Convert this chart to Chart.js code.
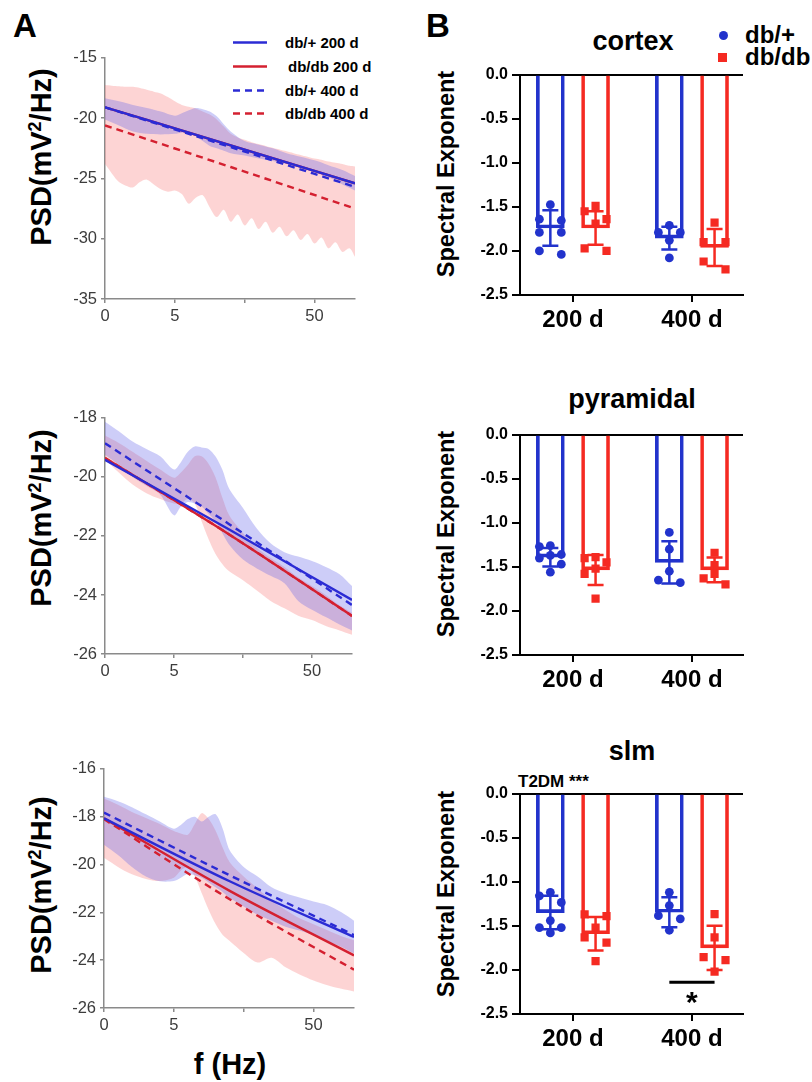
<!DOCTYPE html>
<html>
<head>
<meta charset="utf-8">
<script src="https://cdn.jsdelivr.net/npm/chart.js@4.4.1/dist/chart.umd.min.js"></script>
<style>
  html, body { margin: 0; padding: 0; background: #fff; }
  #fig { position: relative; width: 812px; height: 1082px; overflow: hidden;
         font-family: "Liberation Sans", Arial, sans-serif; color: #000; }
  #fig canvas { position: absolute; }
  .t { position: absolute; line-height: 1; white-space: nowrap; font-weight: bold;
       transform: translate(-50%, -50%); }
  .rot { transform: translate(-50%, -50%) rotate(-90deg); }
  .lg { position: absolute; line-height: 1; white-space: nowrap; font-weight: bold;
        transform: translateY(-50%); }
  .sup { font-size: 0.62em; position: relative; top: -0.55em; }
  .swatch { position: absolute; }
</style>
</head>
<body>
<div id="fig">
  <!-- panel letters -->
  <div class="t" style="left:25px;top:25px;font-size:33px">A</div>
  <div class="t" style="left:438px;top:25px;font-size:33px">B</div>

  <!-- PSD legend -->
  <svg class="swatch" style="left:233px;top:41px" width="34" height="3"><line x1="0" y1="1.5" x2="34" y2="1.5" stroke="#2b2bd4" stroke-width="2.4"/></svg>
  <svg class="swatch" style="left:233px;top:65px" width="34" height="3"><line x1="0" y1="1.5" x2="34" y2="1.5" stroke="#d42030" stroke-width="2.4"/></svg>
  <svg class="swatch" style="left:233px;top:89px" width="34" height="3"><line x1="0" y1="1.5" x2="34" y2="1.5" stroke="#2b2bd4" stroke-width="2.4" stroke-dasharray="7 5"/></svg>
  <svg class="swatch" style="left:233px;top:112px" width="34" height="3"><line x1="0" y1="1.5" x2="34" y2="1.5" stroke="#d42030" stroke-width="2.4" stroke-dasharray="7 5"/></svg>
  <div class="lg" style="left:285px;top:42px;font-size:15px">db/+ 200 d</div>
  <div class="lg" style="left:288px;top:66px;font-size:15px">db/db 200 d</div>
  <div class="lg" style="left:285px;top:90px;font-size:15px">db/+ 400 d</div>
  <div class="lg" style="left:285px;top:113px;font-size:15px">db/db 400 d</div>

  <!-- PSD axis titles -->
  <div class="t rot" style="left:41px;top:157px;font-size:29px">PSD(mV<span class="sup">2</span>/Hz)</div>
  <div class="t rot" style="left:41px;top:518px;font-size:29px">PSD(mV<span class="sup">2</span>/Hz)</div>
  <div class="t rot" style="left:41px;top:885px;font-size:29px">PSD(mV<span class="sup">2</span>/Hz)</div>
  <div class="t" style="left:230px;top:1064px;font-size:29px">f (Hz)</div>

  <!-- exponent panel legend -->
  <div class="swatch" style="left:719px;top:31px;width:9px;height:9px;border-radius:50%;background:#2233cc"></div>
  <div class="swatch" style="left:718px;top:53px;width:9px;height:9px;background:#f52a22"></div>
  <div class="lg" style="left:745px;top:35px;font-size:24px">db/+</div>
  <div class="lg" style="left:745px;top:57px;font-size:24px">db/db</div>

  <!-- exponent panel titles -->
  <div class="t" style="left:633px;top:41px;font-size:27px">cortex</div>
  <div class="t" style="left:632px;top:399px;font-size:27px">pyramidal</div>
  <div class="t" style="left:632px;top:751px;font-size:27px">slm</div>
  <div class="t rot" style="left:447px;top:174px;font-size:23.5px">Spectral Exponent</div>
  <div class="t rot" style="left:447px;top:534px;font-size:23.5px">Spectral Exponent</div>
  <div class="t rot" style="left:447px;top:894px;font-size:23.5px">Spectral Exponent</div>
  <div style="position:absolute;left:518px;top:773px;font-size:17px;font-weight:bold;line-height:1;white-space:nowrap">T2DM ***</div>
</div>

<script>
// ---------- frequency axis ----------
const FREQ_TICKS = ['0', '5', '', '50'];
const PSD_X = [0, 0.2, 0.4, 0.6, 0.8, 1.0, 1.1, 1.2, 1.3, 1.4, 1.5, 1.6, 1.7, 1.8, 2.0, 2.2, 2.4, 2.6, 2.8, 3.0, 3.2, 3.4, 3.58];
const FINE_X = [0, 0.1, 0.2, 0.3, 0.4, 0.5, 0.6, 0.7, 0.8, 0.9, 1.0, 1.1, 1.2, 1.3, 1.4, 1.5, 1.6, 1.7, 1.8, 1.9,
                2.0, 2.1, 2.2, 2.3, 2.4, 2.5, 2.6, 2.7, 2.8, 2.9, 3.0, 3.1, 3.2, 3.3, 3.4, 3.5, 3.58];
const FIT_X = [0, 1.8, 3.58];

// ---------- cortex PSD ----------
const cortexFitCtl200 = [-19.1, -22.25, -25.4];
const cortexFitDb200  = [-19.1, -22.25, -25.4];
const cortexFitCtl400 = [-19.1, -22.4, -25.7];
const cortexFitDb400  = [-20.6, -24.05, -27.5];
const cortexCtlHi = [-18.35, -18.6, -18.9, -19.15, -19.45, -19.8, -19.6, -19.35, -19.15, -19.25, -19.45, -19.85, -20.5, -21.1, -21.9, -22.2, -22.5, -22.9, -23.2, -23.5, -23.9, -24.3, -24.8];
const cortexCtlLo = [-20.1, -20.6, -21.1, -21.3, -21.35, -21.3, -21.2, -21.25, -21.5, -21.9, -22.3, -22.5, -22.7, -22.9, -23.1, -23.35, -23.55, -23.8, -24.1, -24.5, -24.9, -25.5, -26.0];
const cortexDbHi = [-17.25, -17.3, -17.35, -17.4, -17.4, -17.5, -17.65, -17.8, -17.95, -18.25, -18.6, -18.9, -19.05, -19.2, -19.45, -19.7, -20.1, -20.7, -21.3, -21.6,
                    -21.8, -22.0, -22.15, -22.3, -22.45, -22.6, -22.75, -22.9, -23.05, -23.2, -23.35, -23.45, -23.6, -23.7, -23.8, -23.95, -24.0];
const cortexDbLo = [-23.8, -24.6, -25.3, -25.6, -25.75, -25.3, -25.1, -25.5, -25.9, -26.1, -26.0, -26.3, -27.1, -26.6, -26.4, -27.4, -28.2, -27.6, -28.6, -28.0,
                    -28.9, -28.3, -29.2, -28.6, -29.5, -29.0, -29.8, -29.3, -30.1, -29.6, -30.4, -29.9, -30.8, -30.3, -31.1, -30.8, -31.5];

// ---------- pyramidal PSD ----------
const pyrFitCtl200 = [-19.42, -21.78, -24.17];
const pyrFitDb200  = [-19.36, -21.95, -24.71];
const pyrFitCtl400 = [-18.86, -21.6, -24.34];
const pyrFitDb400  = [-19.36, -21.95, -24.71];
const pyrCtlHi = [-18.13, -18.45, -18.8, -19.05, -19.3, -19.75, -19.5, -19.15, -18.97, -19.0, -19.05, -19.3, -19.75, -20.4, -21.05, -21.75, -22.25, -22.55, -22.7, -22.85, -23.05, -23.3, -23.7];
const pyrCtlLo = [-19.25, -19.6, -20.0, -20.3, -20.6, -21.3, -21.0, -20.85, -20.9, -21.0, -21.25, -21.5, -21.9, -22.3, -22.8, -23.1, -23.35, -23.6, -24.2, -24.5, -24.75, -25.0, -25.2];
const pyrDbHi = [-18.6, -18.85, -19.15, -19.45, -19.75, -20.03, -19.85, -19.6, -19.3, -19.3, -19.55, -20.0, -20.7, -21.3, -21.9, -22.4, -22.75, -23.05, -23.4, -23.7, -24.0, -24.35, -24.6];
const pyrDbLo = [-19.4, -19.85, -20.26, -20.55, -20.75, -20.9, -20.9, -20.75, -20.9, -21.5, -22.1, -22.6, -22.95, -23.2, -23.5, -23.85, -24.2, -24.45, -24.7, -24.85, -25.05, -25.2, -25.35];

// ---------- slm PSD ----------
const slmFitCtl200 = [-18.07, -20.7, -23.03];
const slmFitDb200  = [-18.07, -21.1, -23.8];
const slmFitCtl400 = [-17.83, -20.45, -22.95];
const slmFitDb400  = [-18.1, -21.45, -24.4];
const slmCtlHi = [-17.17, -17.35, -17.6, -17.9, -18.2, -18.5, -18.35, -18.1, -18.0, -18.2, -18.0, -17.9, -18.5, -19.4, -20.1, -20.5, -20.95, -21.2, -21.38, -21.55, -21.7, -22.0, -22.35];
const slmCtlLo = [-19.17, -19.6, -20.1, -20.5, -20.7, -20.69, -20.55, -20.4, -20.45, -20.55, -20.75, -20.95, -21.15, -21.4, -21.75, -22.1, -22.35, -22.6, -22.76, -22.95, -23.2, -23.45, -23.72];
const slmDbHi = [-17.24, -17.5, -17.8, -18.05, -18.3, -18.6, -18.7, -18.75, -18.3, -17.85, -18.1, -18.6, -19.3, -19.9, -20.5, -21.0, -21.5, -21.9, -22.25, -22.5, -22.75, -23.0, -23.17];
const slmDbLo = [-19.72, -20.1, -20.41, -20.6, -20.69, -20.55, -20.25, -20.1, -20.5, -21.2, -21.9, -22.5, -22.95, -23.2, -23.7, -24.1, -23.9, -24.3, -24.6, -24.85, -25.05, -25.2, -25.31];

// ---------- spectral exponents (per animal) ----------
const AGES = ['200 d', '400 d'];
const cortexCtl = [[-1.475, -1.64, -1.655, -1.79, -1.79, -2.04, -2.0], [-1.71, -1.79, -1.79, -1.88, -2.08]];
const cortexDb  = [[-1.49, -1.55, -1.64, -1.69, -1.97, -2.0], [-1.68, -1.9, -1.9, -2.12, -2.21]];
const cortexCtlMean = [-1.74, -1.855], cortexCtlSD = [0.20, 0.13];
const cortexDbMean  = [-1.74, -1.96],  cortexDbSD  = [0.19, 0.21];

const pyrCtl = [[-1.27, -1.26, -1.40, -1.36, -1.37, -1.47, -1.56], [-1.11, -1.30, -1.55, -1.68, -1.65]];
const pyrDb  = [[-1.39, -1.40, -1.45, -1.52, -1.58, -1.86], [-1.34, -1.48, -1.58, -1.63, -1.70]];
const pyrCtlMean = [-1.39, -1.45],  pyrCtlSD = [0.105, 0.24];
const pyrDbMean  = [-1.535, -1.535], pyrDbSD = [0.17, 0.14];

const slmCtl = [[-1.12, -1.16, -1.235, -1.44, -1.52, -1.52, -1.58], [-1.12, -1.27, -1.385, -1.42, -1.55]];
const slmDb  = [[-1.37, -1.39, -1.52, -1.63, -1.69, -1.90], [-1.366, -1.63, -1.855, -1.89, -2.02]];
const slmCtlMean = [-1.35, -1.346], slmCtlSD = [0.19, 0.17];
const slmDbMean  = [-1.59, -1.75],  slmDbSD  = [0.19, 0.25];
const slmSigY = -2.14;   // db/+ vs db/db at 400 d
const slmSigText = '*';

// ---------- styling ----------
const BLUE_LINE = '#2b2bd4', RED_LINE = '#d42030';
const BLUE_BAND = 'rgba(100,100,232,0.32)', RED_BAND = 'rgba(248,112,112,0.30)';
const BLUE = '#2233cc', RED = '#f52a22';
const FONT = '"Liberation Sans", Arial, sans-serif';
Chart.defaults.font.family = FONT;
Chart.defaults.animation = false;

const fig = document.getElementById('fig');
const xy = (xs, ys) => ys.map((y, i) => ({ x: xs[i], y }));

function mount(area, m) {
  const c = document.createElement('canvas');
  const w = area.r - area.l + m.l + m.r, h = area.b - area.t + m.t + m.b;
  c.width = w; c.height = h;
  c.style.left = (area.l - m.l) + 'px';
  c.style.top = (area.t - m.t) + 'px';
  c.style.width = w + 'px';
  c.style.height = h + 'px';
  fig.appendChild(c);
  return c;
}

// ---------- PSD panels ----------
function psdChart(area, yMin, yMax, step, fits, ctlBand, dbBand) {
  const m = { l: 70, r: 8, t: 12, b: 30 };
  const c = mount(area, m);
  const fitLine = (ys, color, dashed) => ({
    data: xy(FIT_X, ys), borderColor: color, borderWidth: 2.4, borderDash: dashed ? [7, 5] : [],
    pointRadius: 0, fill: false, cubicInterpolationMode: 'monotone'
  });
  const edge = (xs, ys, fill, color) => ({
    data: xy(xs, ys), borderColor: 'rgba(0,0,0,0)', borderWidth: 1, pointRadius: 0,
    fill: fill, backgroundColor: color, tension: 0.3
  });
  const axisGrey = '#8a8a8a';
  new Chart(c, {
    type: 'line',
    data: {
      datasets: [
        fitLine(fits[0], BLUE_LINE, false),
        fitLine(fits[2], BLUE_LINE, true),
        fitLine(fits[1], RED_LINE, false),
        fitLine(fits[3], RED_LINE, true),
        edge(ctlBand[0], ctlBand[1], '+1', BLUE_BAND),
        edge(ctlBand[0], ctlBand[2], false, BLUE_BAND),
        edge(dbBand[0], dbBand[1], '+1', RED_BAND),
        edge(dbBand[0], dbBand[2], false, RED_BAND)
      ]
    },
    options: {
      responsive: false, events: [],
      layout: { padding: { top: m.t, right: m.r, left: 0, bottom: 0 } },
      plugins: { legend: { display: false }, tooltip: { enabled: false } },
      scales: {
        x: {
          type: 'linear', min: 0, max: 3.58,
          afterBuildTicks: s => { s.ticks = FREQ_TICKS.map((_, i) => ({ value: i })); },
          ticks: { callback: (v, i) => FREQ_TICKS[i], color: '#3c3c3c', font: { size: 16.5 }, padding: 4, maxRotation: 0, autoSkip: false },
          grid: { drawOnChartArea: false, tickLength: 4, color: axisGrey, lineWidth: 1.5 },
          border: { color: axisGrey, width: 1.5 },
          afterFit: s => { s.height = m.b; }
        },
        y: {
          min: yMin, max: yMax,
          ticks: { stepSize: step, color: '#3c3c3c', font: { size: 16.5 }, padding: 4 },
          grid: { drawOnChartArea: false, tickLength: 4, color: axisGrey, lineWidth: 1.5 },
          border: { color: axisGrey, width: 1.5 },
          afterFit: s => { s.width = m.l; }
        }
      }
    }
  });
}

psdChart({ l: 105, r: 355, t: 56, b: 299 }, -35, -15, 5,
  [cortexFitCtl200, cortexFitDb200, cortexFitCtl400, cortexFitDb400],
  [PSD_X, cortexCtlHi, cortexCtlLo], [FINE_X, cortexDbHi, cortexDbLo]);
psdChart({ l: 105, r: 352, t: 416, b: 654 }, -26, -18, 2,
  [pyrFitCtl200, pyrFitDb200, pyrFitCtl400, pyrFitDb400],
  [PSD_X, pyrCtlHi, pyrCtlLo], [PSD_X, pyrDbHi, pyrDbLo]);
psdChart({ l: 104, r: 354, t: 767, b: 1008 }, -26, -16, 2,
  [slmFitCtl200, slmFitDb200, slmFitCtl400, slmFitDb400],
  [PSD_X, slmCtlHi, slmCtlLo], [PSD_X, slmDbHi, slmDbLo]);

// ---------- exponent panels ----------
const GROUP_OFFSET = 0.19;   // half distance between paired bars (x units)
const SPREAD = 0.092;        // horizontal step between overlapping points

// places near-equal values side by side, like a column scatter
function swarm(values) {
  const idx = values.map((_, i) => i).sort((a, b) => values[b] - values[a]);
  const off = new Array(values.length).fill(0);
  let cluster = [idx[0]];
  const flush = () => {
    const n = cluster.length;
    cluster.forEach((k, j) => { off[k] = n === 2 ? (j === 0 ? -1 : 1) : [0, -1, 1][j % 3]; });
  };
  for (let j = 1; j < idx.length; j++) {
    if (values[idx[j - 1]] - values[idx[j]] < 0.1) cluster.push(idx[j]);
    else { flush(); cluster = [idx[j]]; }
  }
  flush();
  return off;
}

const errorBarPlugin = {
  id: 'errorBars',
  afterDatasetsDraw(chart, args, o) {
    const { ctx } = chart, x = chart.scales.x, y = chart.scales.y;
    ctx.save();
    ctx.lineCap = 'butt';
    (o.groups || []).forEach(g => {
      const px = x.getPixelForValue(g.x);
      const top = y.getPixelForValue(g.mean + g.sd), bot = y.getPixelForValue(g.mean - g.sd);
      ctx.strokeStyle = g.color; ctx.lineWidth = 2.5;
      ctx.beginPath();
      ctx.moveTo(px, top); ctx.lineTo(px, bot);
      ctx.moveTo(px - 8, top); ctx.lineTo(px + 8, top);
      ctx.moveTo(px - 8, bot); ctx.lineTo(px + 8, bot);
      ctx.stroke();
    });
    if (o.sig) {
      const s = o.sig, py = y.getPixelForValue(s.y);
      const x1 = x.getPixelForValue(s.from), x2 = x.getPixelForValue(s.to);
      ctx.strokeStyle = '#000'; ctx.lineWidth = 3;
      ctx.beginPath(); ctx.moveTo(x1, py); ctx.lineTo(x2, py); ctx.stroke();
      ctx.fillStyle = '#000'; ctx.font = 'bold 30px ' + FONT;
      ctx.textAlign = 'center'; ctx.textBaseline = 'alphabetic';
      ctx.fillText(s.text, (x1 + x2) / 2, py + 30);
    }
    ctx.restore();
  }
};

function exponentChart(area, ctl, db, ctlMean, ctlSD, dbMean, dbSD, sig) {
  const m = { l: 80, r: 8, t: 12, b: 50 };
  const c = mount(area, m);
  const pts = (groups, side) => groups.flatMap((vals, a) => {
    const off = swarm(vals);
    return vals.map((v, i) => ({ x: a + 1 + side * GROUP_OFFSET + off[i] * SPREAD, y: v }));
  });
  const bars = (means, side) => means.map((v, a) => ({ x: a + 1 + side * GROUP_OFFSET, y: v }));
  const groups = [];
  AGES.forEach((_, a) => {
    groups.push({ x: a + 1 - GROUP_OFFSET, mean: ctlMean[a], sd: ctlSD[a], color: BLUE });
    groups.push({ x: a + 1 + GROUP_OFFSET, mean: dbMean[a], sd: dbSD[a], color: RED });
  });
  new Chart(c, {
    type: 'bar',
    data: {
      datasets: [
        { type: 'scatter', order: 0, data: pts(ctl, -1), pointStyle: 'circle', pointRadius: 4.4,
          backgroundColor: BLUE, borderWidth: 0 },
        { type: 'scatter', order: 0, data: pts(db, 1), pointStyle: 'rect', pointRadius: 5.8,
          backgroundColor: RED, borderWidth: 0 },
        { type: 'bar', order: 1, data: bars(ctlMean, -1), backgroundColor: 'rgba(255,255,255,0)',
          borderColor: BLUE, borderWidth: 3, borderSkipped: 'start', barThickness: 28, grouped: false },
        { type: 'bar', order: 1, data: bars(dbMean, 1), backgroundColor: 'rgba(255,255,255,0)',
          borderColor: RED, borderWidth: 3, borderSkipped: 'start', barThickness: 28, grouped: false }
      ]
    },
    plugins: [errorBarPlugin],
    options: {
      responsive: false, events: [],
      layout: { padding: { top: m.t, right: m.r, left: 0, bottom: 0 } },
      plugins: {
        legend: { display: false }, tooltip: { enabled: false },
        errorBars: { groups, sig }
      },
      scales: {
        x: {
          type: 'linear', min: 0.555, max: 2.429, offset: false,
          afterBuildTicks: s => { s.ticks = AGES.map((_, i) => ({ value: i + 1 })); },
          ticks: { callback: (v, i) => AGES[i], color: '#000', font: { size: 24, weight: 'bold' }, padding: 4, maxRotation: 0, autoSkip: false },
          grid: { offset: false, drawOnChartArea: false, tickLength: 7, color: '#000', lineWidth: 2 },
          border: { color: '#000', width: 2 },
          afterFit: s => { s.height = m.b; }
        },
        y: {
          min: -2.5, max: 0,
          ticks: { stepSize: 0.5, callback: v => Number(v).toFixed(1), color: '#000', font: { size: 16, weight: 'bold' }, padding: 4 },
          grid: {
            color: ctx => (ctx.tick && Math.abs(ctx.tick.value) < 1e-9) ? '#000' : 'rgba(0,0,0,0)',
            tickColor: '#000', lineWidth: 2, tickLength: 8
          },
          border: { color: '#000', width: 2 },
          afterFit: s => { s.width = m.l; }
        }
      }
    }
  });
}

exponentChart({ l: 520, r: 743, t: 73, b: 295 }, cortexCtl, cortexDb, cortexCtlMean, cortexCtlSD, cortexDbMean, cortexDbSD, null);
exponentChart({ l: 520, r: 743, t: 433, b: 655 }, pyrCtl, pyrDb, pyrCtlMean, pyrCtlSD, pyrDbMean, pyrDbSD, null);
exponentChart({ l: 520, r: 743, t: 792, b: 1014 }, slmCtl, slmDb, slmCtlMean, slmCtlSD, slmDbMean, slmDbSD,
  { from: 2 - GROUP_OFFSET, to: 2 + GROUP_OFFSET, y: slmSigY, text: slmSigText });
</script>
</body>
</html>
